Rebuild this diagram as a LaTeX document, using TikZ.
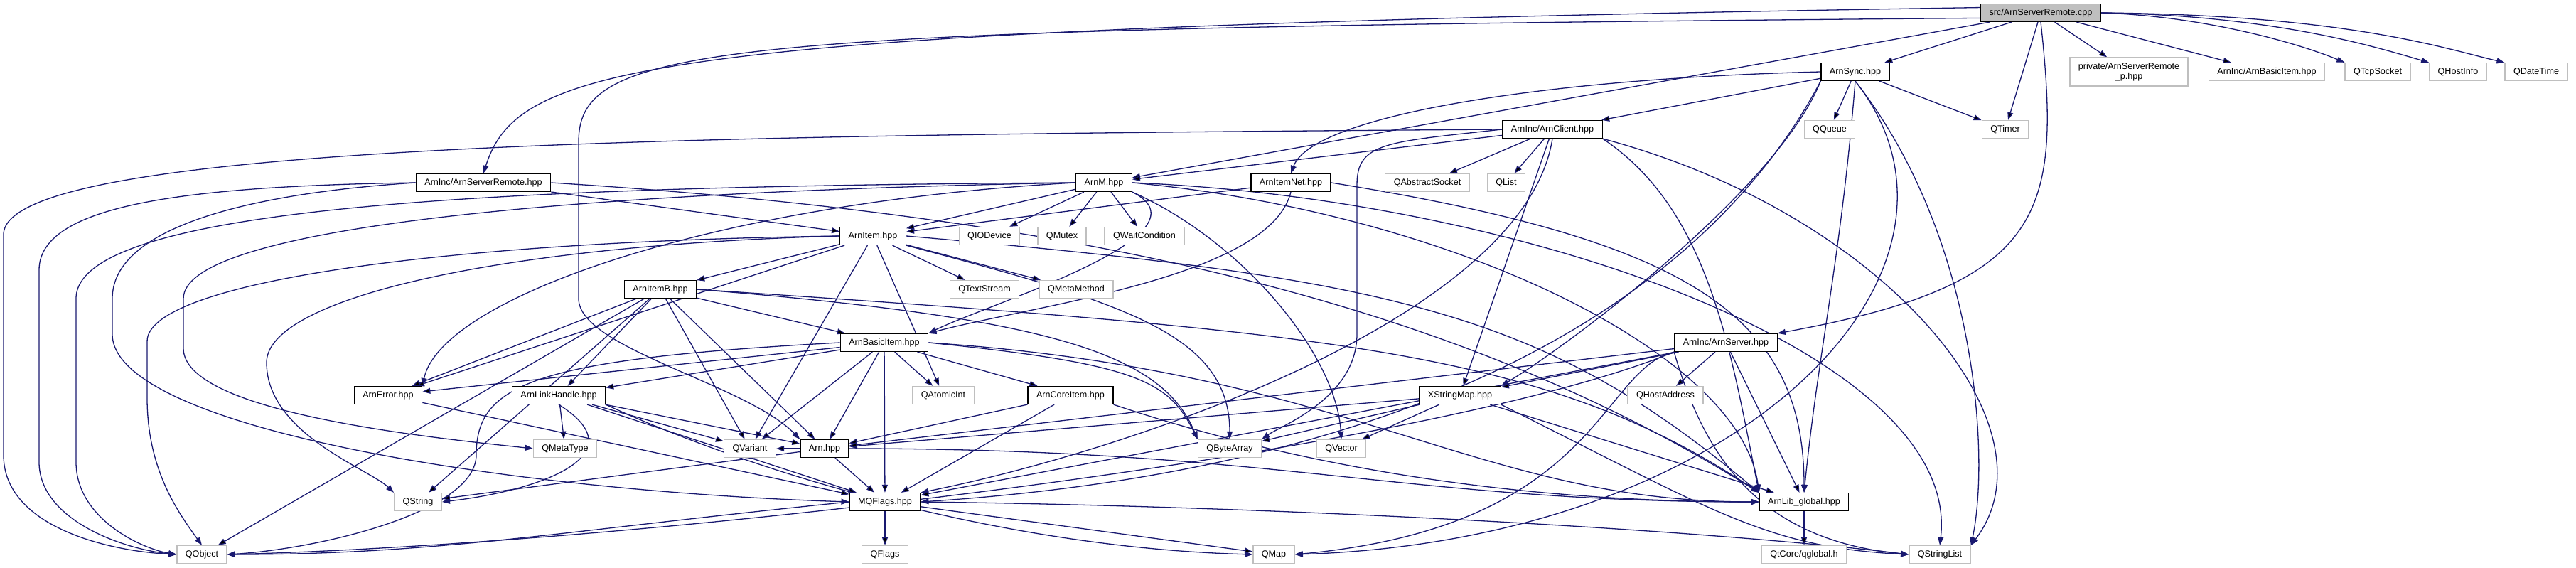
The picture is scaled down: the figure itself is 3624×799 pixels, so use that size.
\documentclass[tikz,border=0pt]{standalone}
\usepackage{fontspec}
\setmainfont{Liberation Sans}
\usetikzlibrary{arrows.meta, backgrounds}
\definecolor{depblue}{HTML}{191970}
\definecolor{extgray}{HTML}{BFBFBF}

\tikzset{
  hdr/.style={draw=black, fill=white, line width=1.3pt, inner xsep=12pt, inner ysep=0pt,
    minimum height=25pt, font=\fontsize{12.6}{14.5}\selectfont},
  ext/.style={hdr, draw=extgray},
  dep/.style={draw=depblue, line width=1.3pt, -{Triangle[length=11pt,width=8pt]}},
}

\begin{document}
\begin{tikzpicture}[x=1pt, y=-1pt]
  \useasboundingbox (0,0) rectangle (3624,799);
  % row 0-2
  \node[hdr, fill=extgray] (src) at (2871,18) {src/ArnServerRemote.cpp};
  \node[hdr] (sync) at (2610,101) {ArnSync.hpp};
  \node[ext, align=center, minimum height=40pt] (priv) at (2995,101) {private/ArnServerRemote\\\_p.hpp};
  \node[ext] (basinc) at (3189,101) {ArnInc/ArnBasicItem.hpp};
  \node[ext] (tcp) at (3345,101) {QTcpSocket};
  \node[ext] (hinfo) at (3458,101) {QHostInfo};
  \node[ext] (dtime) at (3568,101) {QDateTime};
  \node[hdr] (client) at (2184,182) {ArnInc/ArnClient.hpp};
  \node[ext] (queue) at (2574,182) {QQueue};
  \node[ext] (timer) at (2821,182) {QTimer};
  % row 3-5
  \node[hdr] (srvrem) at (680,257) {ArnInc/ArnServerRemote.hpp};
  \node[hdr] (armm) at (1553,257) {ArnM.hpp};
  \node[hdr] (itemnet) at (1816,257) {ArnItemNet.hpp};
  \node[ext] (asock) at (2008,257) {QAbstractSocket};
  \node[ext] (qlist) at (2119,257) {QList};
  \node[hdr] (item) at (1228,332) {ArnItem.hpp};
  \node[ext] (iodev) at (1392,332) {QIODevice};
  \node[ext] (mutex) at (1494,332) {QMutex};
  \node[ext] (waitc) at (1610,332) {QWaitCondition};
  \node[hdr] (itemb) at (929,407) {ArnItemB.hpp};
  \node[ext] (tstream) at (1385,407) {QTextStream};
  \node[ext] (mmethod) at (1514,407) {QMetaMethod};
  % row 6-8
  \node[hdr] (basic) at (1244,482) {ArnBasicItem.hpp};
  \node[hdr] (server) at (2428,482) {ArnInc/ArnServer.hpp};
  \node[hdr] (error) at (546,556) {ArnError.hpp};
  \node[hdr] (link) at (786,556) {ArnLinkHandle.hpp};
  \node[ext] (atomic) at (1327,556) {QAtomicInt};
  \node[hdr] (core) at (1506,556) {ArnCoreItem.hpp};
  \node[hdr] (xsmap) at (2054,556) {XStringMap.hpp};
  \node[ext] (haddr) at (2343,556) {QHostAddress};
  \node[ext] (mtype) at (795,631) {QMetaType};
  \node[ext] (variant) at (1055,631) {QVariant};
  \node[hdr] (arn) at (1160,631) {Arn.hpp};
  \node[ext] (barray) at (1730,631) {QByteArray};
  \node[ext] (vector) at (1887,631) {QVector};
  % row 9-10
  \node[ext] (string) at (588,706) {QString};
  \node[hdr] (mqflags) at (1245,706) {MQFlags.hpp};
  \node[hdr] (global) at (2538,706) {ArnLib\_global.hpp};
  \node[ext] (qobject) at (284,780) {QObject};
  \node[ext] (qflags) at (1245,780) {QFlags};
  \node[ext] (qmap) at (1792,780) {QMap};
  \node[ext] (qglobal) at (2538,780) {QtCore/qglobal.h};
  \node[ext] (slist) at (2729,780) {QStringList};

  \begin{scope}[on background layer]
  % src/ArnServerRemote.cpp
  \draw[dep] (src) edge (sync) edge (timer) edge (priv) edge (basinc) edge (armm);
  \draw[dep] (src.east) .. controls +(150,5) and +(-60,-25) .. (tcp.north west);
  \draw[dep] (src.east) .. controls +(250,4) and +(-70,-20) .. (hinfo.north west);
  \draw[dep] (src.east) .. controls +(350,3) and +(-80,-18) .. (dtime.north west);
  \draw[dep] (src.175) .. controls (900,40) and (730,90) .. (srvrem.north);
  \draw[dep] (src.185) .. controls (1000,40) and (814,60) .. (814,200) -- (814,420)
    .. controls (814,490) and (1050,540) .. (arn.north west);
  \draw[dep] (src.south) .. controls (2900,300) and (2880,400) .. (server.north east);

  % ArnSync.hpp / ArnClient.hpp
  \draw[dep] (sync) edge (client) edge (queue) edge (timer);
  \draw[dep] (sync.west) .. controls +(-400,10) and +(30,-80) .. (itemnet.north);
  \draw[dep] (sync.south west) .. controls +(-60,150) and +(100,-60) .. (xsmap.north east);
  \draw[dep] (sync.south) .. controls +(-20,250) and +(20,-200) .. (global.north);
  \draw[dep] (sync.south) .. controls (2780,330) and (2800,640) .. (slist.north east);
  \draw[dep] (sync.south) .. controls (2820,380) and (2450,760) .. (qmap.east);
  \draw[dep] (sync.south west) .. controls (2400,420) and (2000,660) .. (mqflags.east);
  \draw[dep] (client) edge (armm) edge (asock) edge (qlist) edge (xsmap);
  \draw[dep] (client.south east) .. controls +(150,100) and +(-40,-200) .. (global.north west);
  \draw[dep] (client.south) .. controls +(-40,250) and +(300,-60) .. (mqflags.north east);
  \draw[dep] (client.south east) .. controls (2650,300) and (2900,600) .. (slist.north east);
  \draw[dep] (client.west) .. controls (1950,200) and (1909,200) .. (1909,260) -- (1909,470)
    .. controls (1909,560) and (1800,600) .. (barray.north east);
  \draw[dep] (client.west) .. controls (1000,190) and (5,200) .. (5,330) -- (5,640)
    .. controls (5,740) and (150,775) .. (qobject.west);

  % ArnInc/ArnServerRemote.hpp
  \draw[dep] (srvrem) edge (item);
  \draw[dep] (srvrem.east) .. controls +(800,50) and +(-400,-250) .. (global.north west);
  \draw[dep] (srvrem.west) .. controls (250,262) and (55,290) .. (55,380) -- (55,650)
    .. controls (55,730) and (170,772) .. (qobject.west);
  \draw[dep] (srvrem.west) .. controls (350,272) and (158,320) .. (158,420) -- (158,470)
    .. controls (158,600) and (700,690) .. (mqflags.west);

  % ArnM.hpp
  \draw[dep] (armm) edge (item) edge (iodev) edge (mutex) edge (waitc);
  \draw[dep] (armm.west) .. controls (1000,285) and (620,420) .. (error.north east);
  \draw[dep] (armm.south east) .. controls (1750,340) and (1880,500) .. (vector.north);
  \draw[dep] (armm.south east) .. controls +(120,60) and +(80,-40) .. (basic.north east);
  \draw[dep] (armm.east) .. controls (2050,300) and (2450,500) .. (global.north west);
  \draw[dep] (armm.east) .. controls (2150,280) and (2760,500) .. (slist.north);
  \draw[dep] (armm.west) .. controls (700,262) and (107,290) .. (107,420) -- (107,650)
    .. controls (107,730) and (200,772) .. (qobject.west);
  \draw[dep] (armm.west) .. controls (800,270) and (258,320) .. (258,420) -- (258,490)
    .. controls (258,580) and (600,615) .. (mtype.west);

  % ArnItemNet.hpp
  \draw[dep] (itemnet) edge (item);
  \draw[dep] (itemnet.south) .. controls +(-30,120) and +(150,-40) .. (basic.north east);
  \draw[dep] (itemnet.east) .. controls +(500,80) and +(0,-250) .. (global.north);

  % ArnItem.hpp
  \draw[dep] (item) edge (itemb) edge (tstream) edge (mmethod) edge (atomic) edge (variant)
    edge (error);
  \draw[dep] (item.south east) .. controls +(300,80) and +(0,-150) .. (barray.north);
  \draw[dep] (item.east) .. controls +(700,60) and +(-300,-250) .. (global.north west);
  \draw[dep] (item.west) .. controls (600,340) and (207,400) .. (207,480) -- (207,560)
    .. controls (207,660) and (250,720) .. (qobject.north);
  \draw[dep] (item.west) .. controls (700,345) and (375,420) .. (375,510)
    .. controls (375,610) and (520,660) .. (string.north west);

  % ArnItemB.hpp
  \draw[dep] (itemb) edge (basic) edge (link) edge (variant) edge (arn) edge (error)
    edge (string) edge (qobject);
  \draw[dep] (itemb.east) .. controls +(500,40) and +(-50,-120) .. (barray.north west);
  \draw[dep] (itemb.east) .. controls +(900,60) and +(-300,-200) .. (global.north west);

  % ArnBasicItem.hpp
  \draw[dep] (basic) edge (error) edge (link) edge (variant) edge (arn) edge (mqflags)
    edge (atomic) edge (core);
  \draw[dep] (basic.east) .. controls +(300,30) and +(-40,-80) .. (barray.north west);
  \draw[dep] (basic.east) .. controls +(600,40) and +(-400,0) .. (global.west);
  \draw[dep] (basic.west) .. controls (750,505) and (670,540) .. (670,640)
    .. controls (670,720) and (450,772) .. (qobject.east);

  % ArnLinkHandle.hpp, ArnCoreItem.hpp, ArnError.hpp, Arn.hpp
  \draw[dep] (link) edge (mtype) edge (variant) edge (arn) edge (mqflags);
  \draw[dep] (link.south) .. controls (900,640) and (760,690) .. (string.east);
  \draw[dep] (link.south east) .. controls (1050,660) and (1400,770) .. (qmap.west);
  \draw[dep] (core) edge (arn) edge (mqflags);
  \draw[dep] (core.south east) .. controls +(300,100) and +(-300,0) .. (global.west);
  \draw[dep] (error) edge (mqflags);
  \draw[dep] (arn) edge (variant) edge (mqflags) edge (string);
  \draw[dep] (arn.east) .. controls +(600,0) and +(-500,0) .. (global.west);

  % XStringMap.hpp, ArnInc/ArnServer.hpp
  \draw[dep] (xsmap) edge (arn) edge (vector) edge (barray) edge (global);
  \draw[dep] (xsmap.south east) .. controls +(300,150) and +(-200,-10) .. (slist.west);
  \draw[dep] (server) edge (xsmap) edge (haddr) edge (global) edge (arn) edge (mqflags);
  \draw[dep] (server.south west) .. controls (2250,520) and (2250,740) .. (qmap.east);
  \draw[dep] (server.south west) .. controls (2400,650) and (2480,760) .. (slist.west);
  \draw[dep] (server.south west) .. controls (2000,640) and (900,765) .. (qobject.east);

  % MQFlags.hpp, ArnLib_global.hpp
  \draw[dep] (mqflags) edge (qflags) edge (qmap);
  \draw[dep] (mqflags.west) .. controls +(-400,40) and +(300,0) .. (qobject.east);
  \draw[dep] (mqflags.east) .. controls (1800,712) and (2400,745) .. (slist.west);
  \draw[dep] (global) edge (qglobal);
  \end{scope}
\end{tikzpicture}
\end{document}
